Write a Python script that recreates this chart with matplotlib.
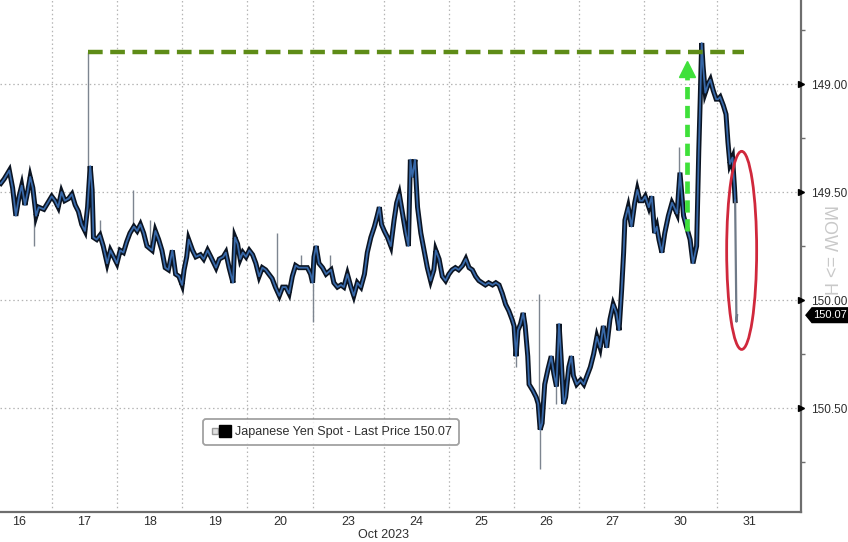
import matplotlib
matplotlib.use("Agg")
import matplotlib.pyplot as plt
import numpy as np
from matplotlib.patches import Ellipse, Polygon
from matplotlib.lines import Line2D
from matplotlib.legend_handler import HandlerTuple

# ---------------------------------------------------------------------------
# Data: USDJPY spot.  Time is "day.fraction of session".
# ---------------------------------------------------------------------------
DAYS = [16, 17, 18, 19, 20, 23, 24, 25, 26, 27, 30, 31]

times = [
    16.22, 16.27, 16.35, 16.40, 16.45, 16.50, 16.54, 16.59, 16.63, 16.67, 16.71, 16.76, 16.80, 16.88, 16.96,
    17.00, 17.05, 17.10, 17.15, 17.20, 17.26, 17.31, 17.36, 17.41, 17.46, 17.51, 17.55, 17.59, 17.62, 17.64,
    17.69, 17.74, 17.79, 17.85, 17.90, 17.95,
    18.00, 18.05, 18.10, 18.15, 18.20, 18.26, 18.31, 18.36, 18.41, 18.46, 18.54, 18.59, 18.64, 18.69, 18.74,
    18.79, 18.85, 18.90, 18.95,
    19.00, 19.03, 19.07, 19.10, 19.16, 19.21, 19.28, 19.33, 19.39, 19.44, 19.52, 19.57, 19.63, 19.67, 19.72,
    19.78, 19.81, 19.85, 19.89, 19.93, 19.98,
    20.03, 20.08, 20.13, 20.18, 20.23, 20.28, 20.33, 20.38, 20.43, 20.49, 20.54, 20.59, 20.64, 20.69, 20.74,
    20.79, 20.87, 20.92, 20.97,
    23.00, 23.02, 23.05, 23.09, 23.14, 23.19, 23.26, 23.30, 23.35, 23.40, 23.44, 23.49, 23.54, 23.58, 23.63,
    23.68, 23.73, 23.77, 23.82, 23.87, 23.91, 23.94, 23.97,
    24.01, 24.06, 24.11, 24.16, 24.20, 24.24, 24.29, 24.34, 24.38, 24.41, 24.44, 24.48, 24.52, 24.57, 24.62,
    24.67, 24.72, 24.77, 24.80, 24.85, 24.90, 24.95,
    25.00, 25.05, 25.10, 25.15, 25.21, 25.26, 25.31, 25.36, 25.41, 25.46, 25.51, 25.56, 25.61, 25.67, 25.72,
    25.77, 25.82, 25.87, 25.92, 25.97,
    26.00, 26.03, 26.06, 26.10, 26.14, 26.17, 26.21, 26.23, 26.29, 26.34, 26.37, 26.40, 26.43, 26.47, 26.52,
    26.57, 26.61, 26.65, 26.69, 26.72, 26.76, 26.79, 26.84, 26.88, 26.91, 26.96,
    27.02, 27.07, 27.12, 27.17, 27.22, 27.27, 27.32, 27.37, 27.42, 27.47, 27.52, 27.57, 27.61, 27.65, 27.68,
    27.70, 27.75, 27.80, 27.85, 27.89, 27.93, 27.97,
    30.01, 30.06, 30.10, 30.14, 30.17, 30.20, 30.24, 30.28, 30.33, 30.38, 30.41, 30.45, 30.49, 30.54, 30.58,
    30.63, 30.67, 30.72, 30.75, 30.77, 30.79, 30.81, 30.84, 30.88, 30.91, 30.95, 30.99,
    31.02, 31.05, 31.10, 31.14, 31.17, 31.20, 31.24, 31.27, 31.28,
]

prices = [
    149.46, 149.44, 149.40, 149.48, 149.61, 149.52, 149.47, 149.56, 149.50, 149.43, 149.48, 149.61, 149.57, 149.58, 149.54,
    149.52, 149.54, 149.57, 149.50, 149.54, 149.53, 149.51, 149.56, 149.59, 149.65, 149.68, 149.57, 149.38, 149.49, 149.71,
    149.72, 149.70, 149.75, 149.83, 149.77, 149.80,
    149.83, 149.77, 149.78, 149.73, 149.69, 149.66, 149.68, 149.65, 149.69, 149.75, 149.77, 149.68, 149.72, 149.77, 149.85,
    149.86, 149.77, 149.88, 149.89,
    149.93, 149.86, 149.80, 149.72, 149.77, 149.80, 149.79, 149.81, 149.77, 149.80, 149.85, 149.81, 149.80, 149.78, 149.85,
    149.92, 149.71, 149.74, 149.81, 149.78, 149.80,
    149.77, 149.79, 149.83, 149.89, 149.85, 149.86, 149.88, 149.90, 149.94, 149.98, 149.94, 149.94, 149.97, 149.89, 149.84,
    149.85, 149.85, 149.85, 149.88,
    149.92, 149.80, 149.75, 149.83, 149.85, 149.88, 149.86, 149.92, 149.94, 149.93, 149.94, 149.88, 149.94, 149.98, 149.92,
    149.94, 149.88, 149.78, 149.71, 149.66, 149.61, 149.57, 149.65,
    149.68, 149.71, 149.75, 149.63, 149.55, 149.51, 149.60, 149.69, 149.75, 149.35, 149.43, 149.35, 149.57, 149.69, 149.77,
    149.85, 149.91, 149.86, 149.77, 149.81, 149.89, 149.91,
    149.88, 149.86, 149.85, 149.86, 149.84, 149.81, 149.85, 149.86, 149.89, 149.91, 149.92, 149.93, 149.92, 149.93, 149.92,
    149.93, 149.97, 150.02, 150.05, 150.09,
    150.12, 150.26, 150.14, 150.11, 150.06, 150.12, 150.26, 150.39, 150.42, 150.45, 150.48, 150.60, 150.57, 150.39, 150.32,
    150.26, 150.34, 150.40, 150.11, 150.26, 150.48, 150.45, 150.31, 150.26, 150.35, 150.39,
    150.37, 150.39, 150.35, 150.31, 150.25, 150.17, 150.22, 150.12, 150.22, 150.09, 150.02, 150.06, 150.14, 149.95, 149.78,
    149.63, 149.57, 149.66, 149.55, 149.49, 149.54, 149.54,
    149.52, 149.57, 149.52, 149.69, 149.66, 149.72, 149.78, 149.69, 149.61, 149.55, 149.57, 149.60, 149.41, 149.61, 149.66,
    149.72, 149.83, 149.75, 149.31, 149.07, 148.81, 148.92, 149.04, 149.00, 148.98, 149.03, 149.07,
    149.07, 149.06, 149.10, 149.14, 149.27, 149.37, 149.34, 149.48, 149.54,
]

# final plunge (thin line in the original)
drop_times = [31.28, 31.30, 31.31]
drop_prices = [149.54, 150.10, 150.07]
last_price = 150.07

# single-tick spikes (time, extreme)
spike_times = [16.73, 17.55, 17.74, 18.25, 18.50, 20.46, 20.83, 23.00, 23.24, 26.03, 26.39, 26.40, 26.65, 30.48]
spike_prices = [149.75, 148.85, 149.63, 149.49, 149.63, 149.69, 149.79, 150.10, 149.79, 150.31, 149.97, 150.78, 150.48, 149.29]

# annotations
arrow_time = 30.59
arrow_from, arrow_to = 149.68, 148.90
ellipse_time, ellipse_price = 31.38, 149.77

# ---------------------------------------------------------------------------
# x positions: weekends removed, Monday sessions a bit longer
# ---------------------------------------------------------------------------
day_len = {d: 1.0 for d in DAYS}
day_len[23] = 1.09
day_len[30] = 1.11
day_start = {}
acc = 0.0
for d in DAYS:
    day_start[d] = acc
    acc += day_len[d]


def to_pos(t):
    t = np.atleast_1d(np.asarray(t, dtype=float))
    d = np.floor(t + 1e-9).astype(int)
    frac = t - d
    return np.array([day_start[k] + f * day_len[k] for k, f in zip(d, frac)])


x = to_pos(times)
xs = to_pos(spike_times)
xd = to_pos(drop_times)

plt.rcParams["font.family"] = ["Liberation Sans", "DejaVu Sans"]
TXT = "#2e2e2e"

fig = plt.figure(figsize=(8.48, 5.42), dpi=100)
fig.patch.set_facecolor("white")
ax = fig.add_axes([0.0, 30 / 542, 801 / 848, 512 / 542])
ax.set_facecolor("white")

ax.set_xlim(0.207, 12.49)
ax.set_ylim(150.981, 148.611)

# grid
grid_kw = dict(color="#b5b5b5", lw=0.9, linestyle=(0, (1.2, 2.2)), zorder=0)
for d in DAYS[1:]:
    ax.axvline(day_start[d], **grid_kw)
for yv in [149.0, 149.5, 150.0, 150.5]:
    ax.axhline(yv, **grid_kw)

# spikes
base = np.interp(xs, x, prices)
ax.vlines(xs, base, spike_prices, color="#7d8590", lw=1.0, zorder=2)

# price series: dark bars with blue bodies
ax.plot(x, prices, color="#0b1422", lw=3.6, solid_joinstyle="miter", zorder=3)
ax.plot(x, prices, color="#3d72b8", lw=1.3, alpha=0.9, zorder=4)
ax.plot(xd, drop_prices, color="#6f7a88", lw=1.6, zorder=3)

# horizontal high line from the Oct 17 spike
hi_idx = int(np.argmin(spike_prices))
ax.plot([xs[hi_idx], to_pos(31.42)[0]], [spike_prices[hi_idx]] * 2,
        color="#5e8c17", lw=3.2, linestyle=(0, (3.3, 1.7)), zorder=5)

# green arrow
xa = to_pos(arrow_time)[0]
ax.plot([xa, xa], [arrow_from, arrow_to + 0.05], color="#3fe03a", lw=3.4,
        linestyle=(0, (2.6, 1.4)), zorder=6)
ax.plot([xa], [arrow_to + 0.03], marker="^", ms=11, color="#3fe03a", mec="#3fe03a", zorder=6)

# red ellipse
ax.add_patch(Ellipse((to_pos(ellipse_time)[0], ellipse_price), 0.46, 0.917,
                     fill=False, ec="#d0283c", lw=2.0, zorder=7))

# axes styling
for s in ["top", "left"]:
    ax.spines[s].set_visible(False)
for s in ["right", "bottom"]:
    ax.spines[s].set_color("#6e6e6e")
    ax.spines[s].set_linewidth(1.6)

ax.yaxis.tick_right()
ax.set_yticks([149.0, 149.5, 150.0, 150.5])
ax.set_yticklabels([f"{v:.2f}" for v in [149.0, 149.5, 150.0, 150.5]], fontsize=8.5, color=TXT)
ax.set_yticks([148.75, 149.25, 149.75, 150.25, 150.75], minor=True)
ax.tick_params(axis="y", which="major", length=0, pad=7)
ax.tick_params(axis="y", which="minor", length=3, width=1, color="#6e6e6e", direction="out")
ax.plot([1.0] * 4, [149.0, 149.5, 150.0, 150.5], marker=">", ms=5, color="black", ls="none",
        transform=ax.get_yaxis_transform(), clip_on=False, zorder=8)

centers = [day_start[d] + day_len[d] / 2 for d in DAYS]
ax.set_xticks(centers)
ax.set_xticklabels([str(d) for d in DAYS], fontsize=9, color=TXT)
ax.tick_params(axis="x", length=0, pad=3)
ax.text(day_start[24], -0.044, "Oct 2023", transform=ax.get_xaxis_transform(),
        ha="center", va="center", fontsize=9, color=TXT)

# last price tag (pointed black box right of the axis)
ytr = ax.get_yaxis_transform()
half_h = 0.034
tag = Polygon([(1.0062, last_price), (1.0137, last_price - half_h), (1.06, last_price - half_h),
               (1.06, last_price + half_h), (1.0137, last_price + half_h)],
              closed=True, fc="black", ec="black", transform=ytr, clip_on=False, zorder=9)
ax.add_patch(tag)
ax.text(1.0365, last_price, f"{last_price:.2f}", transform=ytr, ha="center", va="center",
        fontsize=8, color="white", clip_on=False, zorder=10)

# side text
fig.text(829 / 848, 1 - 250 / 542, "MOW => H", rotation=270, ha="center", va="center",
         fontsize=13, color="#c9c9c9")

# legend
h_small = Line2D([], [], marker="s", ms=4, mfc="#e0e0e0", mec="#9a9a9a", ls="none")
h_big = Line2D([], [], marker="s", ms=9, color="black", ls="none")
leg = fig.legend([(h_small, h_big)], [f"Japanese Yen Spot - Last Price {last_price:.2f}"],
                 handler_map={tuple: HandlerTuple(ndivide=None, pad=0.1)},
                 loc="upper left", bbox_to_anchor=(203 / 848, 1 - 419 / 542), borderaxespad=0,
                 fontsize=9, frameon=True, fancybox=True, handlelength=1.6,
                 handletextpad=0.4, borderpad=0.55, labelcolor=TXT)
leg.get_frame().set_edgecolor("#8a8a8a")
leg.get_frame().set_linewidth(1.3)

fig.savefig("out.png", dpi=100, facecolor="white")
